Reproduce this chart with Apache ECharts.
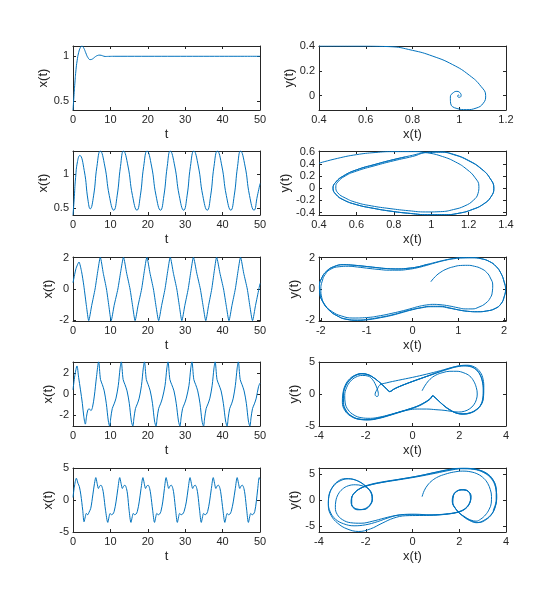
<!DOCTYPE html>
<html><head><meta charset="utf-8">
<script src="https://cdn.jsdelivr.net/npm/echarts@6/dist/echarts.min.js"></script>
<style>html,body{margin:0;padding:0;background:#fff}#c{width:560px;height:611px}</style>
</head><body><div id="c"></div>
<script>
// ---------- tick labels ----------
const tTicks = [0, 10, 20, 30, 40, 50];
const p1YTicks = [0.5, 1];
const p2XTicks = [0.4, 0.6, 0.8, 1, 1.2];
const p2YTicks = [0, 0.2, 0.4];
const p3YTicks = [0.5, 1];
const p4XTicks = [0.4, 0.6, 0.8, 1, 1.2, 1.4];
const p4YTicks = [-0.4, -0.2, 0, 0.2, 0.4, 0.6];
const p5YTicks = [-2, 0, 2];
const p6XTicks = [-2, -1, 0, 1, 2];
const p6YTicks = [-2, 0, 2];
const p7YTicks = [-2, 0, 2];
const p8XTicks = [-4, -2, 0, 2, 4];
const p8YTicks = [-5, 0, 5];
const p9YTicks = [-5, 0, 5];
const p10XTicks = [-4, -2, 0, 2, 4];
const p10YTicks = [-5, 0, 5];

// ---------- panel 1: x(t) ----------
const p1T = [0,0.25,0.5,0.8,1.1,1.5,2.0,2.4,2.9,3.4,4.0,4.6,5.2,5.8,6.5,7.2,7.9,8.6,9.5,11,50];
const p1X = [0.4,0.55,0.7,0.85,0.95,1.04,1.10,1.115,1.09,1.04,0.985,0.963,0.97,0.99,1.008,1.013,1.006,0.998,0.999,1.0,1.0];

// ---------- panel 2: phase ----------
const p2X = [0.40,0.55,0.70,0.80,0.887,0.972,1.043,1.093,1.113,1.103,1.072,1.03,0.99,0.963,0.962,0.975,0.99,1.005,1.008,1.0,0.993,0.996,1.0];
const p2Y = [0.400,0.400,0.395,0.365,0.318,0.250,0.165,0.075,0.0,-0.06,-0.10,-0.112,-0.103,-0.06,-0.01,0.025,0.035,0.02,0.0,-0.013,-0.004,0.006,0.0];

// ---------- panel 3: x(t) ----------
const p3T = [0,0.3,0.7,1.2,1.8, 3.0,4.0,4.6, 5.5,6.4,7.3, 8.5,9.7,10.9, 11.8,12.7,13.5, 14.7,15.9,17.1, 18.0,18.9,19.8, 21.0,22.2,23.4, 24.3,25.2,26.0, 27.2,28.4,29.6, 30.5,31.4,32.3, 33.5,34.7,35.9, 36.8,37.7,38.6, 39.8,41.0,42.2, 43.1,44.0,44.8, 46.0,47.2,48.4, 49.3,50];
const p3X = [0.4,0.62,0.95,1.18,1.27, 1.05,0.62,0.49, 0.68,1.11,1.335, 1.115,0.685,0.47, 0.68,1.11,1.335, 1.115,0.685,0.47, 0.68,1.11,1.335, 1.115,0.685,0.47, 0.68,1.11,1.335, 1.115,0.685,0.47, 0.68,1.11,1.335, 1.115,0.685,0.47, 0.68,1.11,1.335, 1.115,0.685,0.47, 0.68,1.11,1.335, 1.115,0.685,0.47, 0.68,0.86];

// ---------- panel 4: phase ----------
const p4X = [0.40,0.50,0.60,0.70,0.80,0.90,0.98,1.06,1.13,1.19,1.235,1.255,1.25,1.225,1.18,1.12,1.05,0.97,0.88,0.78,0.68,0.60,0.54,0.50,0.49,0.50,0.54,0.60,0.70,0.80,0.90,
  0.98,1.05,1.12,1.20,1.27,1.315,1.335,1.32,1.28,1.22,1.15,1.07,0.98,0.89,0.79,0.69,0.60,0.53,0.49,0.475,0.49,0.53,0.60,0.70,0.80,0.90,
  0.98,1.05,1.12,1.20,1.27,1.315,1.335,1.32,1.28,1.22,1.15,1.07,0.98,0.89,0.79,0.69,0.60,0.53,0.49,0.475,0.49,0.53,0.60,0.70,0.80,0.86];
const p4Y = [0.41,0.49,0.55,0.585,0.60,0.60,0.58,0.52,0.43,0.31,0.17,0.03,-0.09,-0.20,-0.29,-0.35,-0.385,-0.39,-0.37,-0.335,-0.29,-0.235,-0.16,-0.075,0.02,0.10,0.20,0.28,0.37,0.45,0.52,
  0.585,0.59,0.55,0.45,0.31,0.16,0.0,-0.14,-0.26,-0.35,-0.41,-0.435,-0.435,-0.415,-0.38,-0.33,-0.27,-0.19,-0.10,0.0,0.10,0.20,0.30,0.39,0.47,0.54,
  0.59,0.595,0.555,0.455,0.315,0.16,0.0,-0.14,-0.26,-0.35,-0.41,-0.435,-0.435,-0.415,-0.38,-0.33,-0.27,-0.19,-0.10,0.0,0.10,0.20,0.30,0.39,0.47,0.51];

// ---------- panel 5: x(t) ----------
const p5T = [0,0.8,1.6,2.3,2.9,3.6,4.2, 5.0,5.9,6.6,7.3, 8.1,8.95,9.6,10.2, 11.0,12.0,12.75,13.5, 14.35,15.25,15.95,16.6, 17.4,18.35,19.05,19.75, 20.6,21.5,22.2,22.9, 23.7,24.6,25.3,26.0, 26.85,27.75,28.45,29.1, 29.9,30.8,31.5,32.2, 33.1,34.05,34.8,35.5, 36.25,37.1,37.75,38.4, 39.3,40.25,41.0,41.7, 42.5,43.4,44.1,44.8, 45.65,46.6,47.3,48.0, 48.8,49.7,50];
const p5X = [0.4,1.3,1.72,1.1,0.2,-1.1,-2.02, -1.05,0,1.1,2.02, 1.0,0,-1.1,-2.02, -1.05,0,1.1,2.02, 1.0,0,-1.1,-2.02, -1.05,0,1.1,2.02, 1.0,0,-1.1,-2.02, -1.05,0,1.1,2.02, 1.0,0,-1.1,-2.02, -1.05,0,1.1,2.02, 1.0,0,-1.1,-2.02, -1.05,0,1.1,2.02, 1.0,0,-1.1,-2.02, -1.05,0,1.1,2.02, 1.0,0,-1.1,-2.02, -1.05,0,0.35];

// ---------- panel 6: phase ----------
const p6X = [0.40,0.50,0.62,0.75,0.90,1.05,1.20,1.35,1.50,1.62,1.70,1.75,1.74,1.70,1.60,1.45,1.30,1.15,1.00,0.80,0.60,0.44,0.30,0.15,0.0,-0.2,-0.45,-0.7,-1.0,-1.3,-1.55,-1.75,-1.9,-1.98,-2.0,
  -1.97,-1.90,-1.78,-1.60,-1.40,-1.20,-1.00,-0.75,-0.50,-0.30,-0.10,0.10,0.30,0.50,0.70,0.90,1.10,1.30,1.50,1.68,1.82,1.93,2.00,2.03,2.00,1.93,1.80,1.62,1.42,1.20,1.00,0.80,0.60,0.40,0.20,0.0,-0.20,-0.45,-0.70,-0.95,-1.20,-1.45,-1.65,-1.82,-1.95,-2.02,-2.03,
  -1.98,-1.88,-1.72,-1.50,-1.30,-1.05,-0.80,-0.55,-0.30,-0.10,0.10,0.30,0.50,0.70,0.90,1.10,1.30,1.50,1.68,1.82,1.93,2.00,2.03,2.00,1.93,1.80,1.62,1.42,1.20,1.00,0.80,0.60,0.40,0.20,0.0,-0.20,-0.45,-0.70,-0.95,-1.20,-1.45,-1.65,-1.82,-1.95,-2.02,-2.03,
  -1.98,-1.88,-1.72,-1.50,-1.30,-1.05,-0.80,-0.55,-0.30,-0.10,0.10,0.30,0.35];
const p6Y = [0.46,0.80,1.08,1.28,1.42,1.50,1.51,1.45,1.30,1.05,0.70,0.25,-0.20,-0.55,-0.90,-1.15,-1.27,-1.27,-1.20,-1.08,-1.00,-0.98,-1.02,-1.10,-1.22,-1.38,-1.55,-1.70,-1.82,-1.85,-1.72,-1.45,-1.05,-0.55,0.0,
  0.50,0.95,1.27,1.42,1.45,1.40,1.33,1.25,1.20,1.20,1.25,1.35,1.50,1.67,1.82,1.93,1.98,1.99,1.93,1.75,1.45,1.00,0.45,0.0,-0.50,-0.95,-1.25,-1.40,-1.45,-1.42,-1.33,-1.20,-1.10,-1.10,-1.18,-1.30,-1.45,-1.65,-1.80,-1.92,-1.98,-1.92,-1.70,-1.35,-0.85,-0.30,0.20,
  0.70,1.12,1.42,1.55,1.52,1.45,1.37,1.30,1.28,1.32,1.40,1.55,1.70,1.84,1.95,2.0,2.0,1.93,1.75,1.45,1.00,0.45,0.0,-0.50,-0.95,-1.25,-1.40,-1.45,-1.42,-1.33,-1.22,-1.13,-1.13,-1.20,-1.32,-1.48,-1.68,-1.83,-1.95,-2.0,-1.93,-1.70,-1.35,-0.85,-0.30,0.20,
  0.70,1.12,1.42,1.55,1.52,1.45,1.37,1.30,1.28,1.32,1.40,1.55,1.58];

// ---------- panel 7: x(t) ----------
const p7T = [0,0.5,1.07,1.5,2.0,2.5,2.9,3.3, 3.6,4.0,4.4,4.8,5.2,5.7,6.3,6.85,
  7.35,7.85,8.35,8.9,9.45,9.8, 10.1,10.5,11.0,11.5,12.1,12.6,12.9,
  13.4,13.9,14.45,15.05,15.6,16.0, 16.3,16.7,17.2,17.7,18.3,18.8,19.1,
  19.6,20.1,20.65,21.25,21.8,22.2, 22.5,22.9,23.4,23.9,24.6,25.1,25.4,
  25.9,26.4,27.0,27.6,28.2,28.6, 28.9,29.3,29.8,30.3,31.0,31.5,31.8,
  32.3,32.8,33.35,33.95,34.5,34.9, 35.2,35.6,36.1,36.6,37.2,37.7,38.0,
  38.5,39.0,39.6,40.2,40.8,41.2, 41.5,41.9,42.4,42.85,43.4,43.9,44.2,
  44.7,45.2,45.75,46.35,46.9,47.3, 47.6,48.0,48.5,49.0,49.6,50];
const p7X = [0.4,1.8,2.7,1.6,0.4,-0.9,-2.2,-2.9, -2.2,-1.5,-1.45,-1.6,-1.3,-0.2,1.7,3.1,
  1.4,0.9,0.3,-0.9,-2.6,-3.1, -2.3,-1.4,-0.95,-0.4,0.8,2.5,3.1,
  1.4,0.9,0.3,-0.9,-2.6,-3.1, -2.3,-1.4,-0.95,-0.4,0.8,2.5,3.1,
  1.4,0.9,0.3,-0.9,-2.6,-3.1, -2.3,-1.4,-0.95,-0.4,0.8,2.5,3.1,
  1.4,0.9,0.3,-0.9,-2.6,-3.1, -2.3,-1.4,-0.95,-0.4,0.8,2.5,3.1,
  1.4,0.9,0.3,-0.9,-2.6,-3.1, -2.3,-1.4,-0.95,-0.4,0.8,2.5,3.1,
  1.4,0.9,0.3,-0.9,-2.6,-3.1, -2.3,-1.4,-0.95,-0.4,0.8,2.5,3.1,
  1.4,0.9,0.3,-0.9,-2.6,-3.1, -2.3,-1.4,-0.95,-0.4,0.7,1.05];

// ---------- panel 8: phase ----------
const p8X = [0.41,0.55,0.75,1.0,1.3,1.6,1.9,2.2,2.45,2.62,2.73,2.77,2.73,2.62,2.45,2.22,1.95,1.65,1.35,1.0,0.6,0.2,-0.2,-0.6,-1.0,-1.4,-1.8,-2.2,-2.5,-2.75,-2.88,-2.9,-2.82,-2.65,-2.42,-2.15,-1.9,-1.72,-1.6,-1.52,-1.47,-1.46,-1.5,-1.56,-1.6,-1.57,-1.5,-1.4,-1.1,-0.6,0.0,0.6,1.2,1.7,2.1,2.45,2.72,2.9,3.0,3.03,
  3.0,2.9,2.7,2.45,2.15,1.85,1.55,1.3,1.08,0.9,0.87,0.75,0.5,0.2,-0.2,-0.6,-1.0,-1.45,-1.9,-2.3,-2.62,-2.85,-2.95,-2.95,-2.85,-2.65,-2.4,-2.15,-1.9,-1.65,-1.4,-1.2,-1.02,-0.98,-0.8,-0.5,0.0,0.5,1.0,1.5,1.9,2.3,2.62,2.85,2.98,3.03,
  3.02,2.93,2.75,2.5,2.2,1.9,1.6,1.33,1.1,0.92,0.88,0.76,0.52,0.22,-0.18,-0.58,-0.98,-1.42,-1.88,-2.3,-2.65,-2.9,-3.0,-2.98,-2.88,-2.68,-2.42,-2.18,-1.92,-1.66,-1.42,-1.2,-1.03,-0.97,-0.78,-0.48,0.02,0.52,1.02,1.52,1.92,2.32,2.66,2.9,3.02,3.05,
  3.03,2.92,2.72,2.47,2.17,1.87,1.57,1.31,1.09,0.91,0.87,0.75,0.5,0.2,-0.2,-0.6,-1.0,-1.45,-1.9,-2.3,-2.63,-2.87,-2.97,-2.96,-2.86,-2.66,-2.41,-2.16,-1.91,-1.65,-1.41,-1.2,-1.02,-0.98,-0.79,-0.49,0.01,0.51,1.0];
const p8Y = [0.5,1.4,2.3,2.95,3.35,3.55,3.55,3.3,2.8,2.0,1.0,0.0,-0.9,-1.7,-2.3,-2.7,-2.82,-2.7,-2.55,-2.45,-2.35,-2.35,-2.5,-2.85,-3.25,-3.6,-3.8,-3.7,-3.3,-2.5,-1.4,-0.2,1.0,2.0,2.65,2.9,2.8,2.3,1.6,0.9,0.3,-0.1,-0.38,-0.35,-0.05,0.35,0.8,1.4,1.75,2.15,2.6,3.1,3.65,4.15,4.4,4.3,3.8,2.9,1.7,0.4,
  -0.8,-1.8,-2.5,-2.95,-3.1,-2.95,-2.4,-1.7,-0.95,-0.35,-0.25,-0.75,-1.35,-1.9,-2.4,-2.85,-3.3,-3.75,-4.0,-3.9,-3.4,-2.5,-1.3,0.0,1.3,2.3,2.95,3.15,3.0,2.5,1.8,1.1,0.45,0.37,0.75,1.25,1.95,2.6,3.25,3.85,4.25,4.42,4.1,3.3,2.2,0.9,
  -0.6,-1.7,-2.45,-2.95,-3.15,-3.0,-2.45,-1.75,-1.0,-0.4,-0.3,-0.8,-1.4,-1.95,-2.45,-2.9,-3.35,-3.8,-4.05,-3.95,-3.45,-2.55,-1.3,0.0,1.35,2.4,3.0,3.2,3.05,2.55,1.85,1.15,0.5,0.4,0.8,1.3,2.0,2.65,3.3,3.95,4.35,4.5,4.2,3.4,2.3,1.0,
  -0.7,-1.75,-2.48,-2.95,-3.12,-2.97,-2.42,-1.72,-0.97,-0.37,-0.27,-0.77,-1.37,-1.92,-2.42,-2.87,-3.32,-3.77,-4.02,-3.92,-3.42,-2.52,-1.3,0.0,1.32,2.35,2.97,3.17,3.02,2.52,1.82,1.12,0.47,0.38,0.77,1.27,1.97,2.62,3.27];

// ---------- panel 9: x(t) ----------
const p9T = [0,0.35,0.9,1.33,1.7,2.1,2.6,2.95, 3.3,3.55,3.95,4.3,4.75,5.3,5.75,6.1,
  6.45,6.8,7.15,7.5,7.9,8.2,8.7,9.3, 9.65,9.9,10.3,10.65,11.0,11.5,12.0,12.5,
  12.85,13.2,13.55,13.9,14.3,14.6,15.0,15.5, 15.85,16.1,16.5,16.85,17.2,17.7,18.2,18.7,
  19.05,19.4,19.75,20.1,20.5,20.8,21.3,21.8, 22.15,22.4,22.8,23.15,23.5,24.0,24.45,24.9,
  25.25,25.6,25.95,26.3,26.7,27.0,27.45,27.9, 28.25,28.5,28.9,29.3,29.7,30.3,30.8,31.3,
  31.65,32.0,32.35,32.7,33.1,33.4,33.85,34.3, 34.65,34.9,35.3,35.65,36.0,36.5,37.0,37.5,
  37.85,38.2,38.55,38.9,39.3,39.6,40.1,40.6, 40.95,41.2,41.6,41.95,42.3,42.85,43.4,43.9,
  44.25,44.6,44.95,45.3,45.7,46.0,46.45,46.9, 47.25,47.5,47.9,48.25,48.6,49.0,49.4,49.8,50];
const p9X = [0.4,2.0,3.4,2.6,2.1,0.8,-1.6,-3.4, -2.6,-2.1,-2.3,-1.9,-1.3,0.8,2.6,3.5,
  2.6,1.8,2.2,2.3,1.8,0.8,-1.6,-3.5, -2.6,-2.1,-2.3,-2.2,-1.8,-0.3,1.8,3.5,
  2.6,1.8,2.2,2.3,1.8,0.8,-1.6,-3.5, -2.6,-2.1,-2.3,-2.2,-1.8,-0.3,1.8,3.5,
  2.6,1.8,2.2,2.3,1.8,0.8,-1.6,-3.5, -2.6,-2.1,-2.3,-2.2,-1.8,-0.3,1.8,3.5,
  2.6,1.8,2.2,2.3,1.8,0.8,-1.6,-3.5, -2.6,-2.1,-2.3,-2.2,-1.8,-0.3,1.8,3.5,
  2.6,1.8,2.2,2.3,1.8,0.8,-1.6,-3.5, -2.6,-2.1,-2.3,-2.2,-1.8,-0.3,1.8,3.5,
  2.6,1.8,2.2,2.3,1.8,0.8,-1.6,-3.5, -2.6,-2.1,-2.3,-2.2,-1.8,-0.3,1.8,3.5,
  2.6,1.8,2.2,2.3,1.8,0.8,-1.6,-3.5, -2.6,-2.1,-2.3,-2.2,-1.8,-0.3,1.8,3.5,3.2];

// ---------- panel 10: phase ----------
const p10X = [0.41,0.5,0.65,0.85,1.1,1.4,1.75,2.15,2.5,2.8,3.05,3.22,3.33,3.38,3.37,3.28,3.12,2.92,2.72,2.5,2.25,2.0,1.82,1.72,1.75,1.88,2.08,2.3,2.45,2.48,2.4,2.22,1.95,1.55,1.0,0.4,-0.2,-0.7,-1.2,-1.7,-2.2,-2.65,-3.0,-3.22,-3.3,-3.28,-3.18,-3.0,-2.75,-2.45,-2.15,-1.9,-1.75,-1.72,-1.82,-2.0,-2.25,-2.5,-2.62,-2.6,-2.45,-2.2,-1.85,-1.3,-0.6,0.2,1.0,1.6,2.1,2.6,3.05,3.38,3.55,3.6,3.55,3.4,3.15,2.85,2.55,2.2,1.88,1.72,1.75,1.92,2.15,2.38,2.5,2.45,2.28,2.0,1.55,0.9,0.3,-0.3,-0.8,-1.3,-1.8,-2.3,-2.8,-3.2,-3.48,-3.6,-3.58,-3.45,-3.2,-2.85,-2.45,-2.1,-1.8,-1.72,-1.82,-2.05,-2.35,-2.58,-2.62,-2.5,-2.25,-1.9,-1.3,-0.6,0.2,1.0,1.6,2.1,2.65,3.1,3.42,3.57,3.6,3.52,3.35,3.05,2.75,2.45,2.12,1.85,1.7,1.76,1.95,2.2,2.42,2.5,2.42,2.22,1.9,1.4,0.8,0.1,-0.5,-1.0,-1.5,-2.0,-2.5,-2.95,-3.3,-3.52,-3.6,-3.55,-3.38,-3.1,-2.75,-2.35,-2.0,-1.78,-1.72,-1.85,-2.1,-2.4,-2.6,-2.6,-2.45,-2.15,-1.8,-1.2,-0.5,0.3,1.1,1.7,2.2,2.7,3.15,3.45,3.58,3.58,3.45];
const p10Y = [0.65,1.8,2.9,3.8,4.5,5.0,5.4,5.6,5.45,5.0,4.2,3.2,2.0,0.7,-0.6,-1.8,-2.9,-3.7,-4.1,-3.9,-3.3,-2.5,-1.5,-0.4,0.8,1.6,1.95,1.85,1.2,0.2,-0.9,-1.75,-2.3,-2.65,-2.85,-2.9,-2.85,-3.0,-3.5,-4.1,-4.5,-4.4,-3.8,-2.8,-1.5,-0.2,1.1,2.1,2.75,2.95,2.75,2.2,1.3,0.2,-0.9,-1.6,-1.85,-1.5,-0.6,0.5,1.5,2.3,2.85,3.4,3.9,4.5,5.2,5.75,6.05,5.95,5.3,4.1,2.5,0.6,-1.2,-2.7,-3.8,-4.35,-4.1,-3.2,-1.9,-0.5,0.9,1.75,2.0,1.7,0.8,-0.6,-1.65,-2.3,-2.7,-2.95,-3.0,-3.05,-3.5,-4.5,-5.6,-6.1,-5.6,-4.5,-3.0,-1.2,0.7,2.3,3.6,4.15,3.9,3.0,1.7,0.3,-1.0,-1.8,-1.9,-1.2,0.0,1.3,2.25,2.9,3.5,4.0,4.6,5.4,5.95,6.15,6.0,5.3,4.0,2.3,0.4,-1.5,-2.9,-3.95,-4.4,-4.0,-3.0,-1.7,-0.3,1.1,1.85,2.0,1.55,0.5,-0.8,-1.8,-2.4,-2.75,-2.9,-2.75,-2.85,-3.4,-4.2,-4.8,-5.0,-4.6,-3.7,-2.3,-0.6,1.2,2.7,3.7,4.1,3.7,2.7,1.4,0.0,-1.2,-1.85,-1.75,-0.9,0.3,1.5,2.4,2.95,3.5,4.05,4.7,5.45,5.95,6.15,5.95,5.25,3.9,2.0,0.0,-2.0];

// ---------- layout / styling ----------
const FONT = '"Liberation Sans", Arial, Helvetica, sans-serif';
const TXT = '#262626';
const LINE = '#0072BD';
const rowsTop = [46, 151, 257, 362, 468];
const colLeft = [73, 319];
const W = 187, H = 64;

const spec = [
  {r:0,c:0, xs:p1T, ys:p1X, xr:[0,50], xt:tTicks, yr:[0.4,1.115], yt:p1YTicks, xn:'t', yn:'x(t)', sm:0.5, yg:15.5},
  {r:0,c:1, xs:p2X, ys:p2Y, xr:[0.4,1.2], xt:p2XTicks, yr:[-0.115,0.4], yt:p2YTicks, xn:'x(t)', yn:'y(t)', sm:0.5, yg:14.5},
  {r:1,c:0, xs:p3T, ys:p3X, xr:[0,50], xt:tTicks, yr:[0.4,1.335], yt:p3YTicks, xn:'t', yn:'x(t)', sm:0.5, yg:16.5},
  {r:1,c:1, xs:p4X, ys:p4Y, xr:[0.4,1.4], xt:p4XTicks, yr:[-0.44,0.61], yt:p4YTicks, xn:'x(t)', yn:'y(t)', sm:0.5, yg:19.5},
  {r:2,c:0, xs:p5T, ys:p5X, xr:[0,50], xt:tTicks, yr:[-2.04,2.04], yt:p5YTicks, xn:'t', yn:'x(t)', sm:0.2, yg:11},
  {r:2,c:1, xs:p6X, ys:p6Y, xr:[-2.04,2.04], xt:p6XTicks, yr:[-2.04,2.04], yt:p6YTicks, xn:'x(t)', yn:'y(t)', sm:0.5, yg:13},
  {r:3,c:0, xs:p7T, ys:p7X, xr:[0,50], xt:tTicks, yr:[-3.08,3.08], yt:p7YTicks, xn:'t', yn:'x(t)', sm:0.3, yg:11},
  {r:3,c:1, xs:p8X, ys:p8Y, xr:[-4,4], xt:p8XTicks, yr:[-5,5], yt:p8YTicks, xn:'x(t)', yn:'y(t)', sm:0.4, yg:13},
  {r:4,c:0, xs:p9T, ys:p9X, xr:[0,50], xt:tTicks, yr:[-5,5], yt:p9YTicks, xn:'t', yn:'x(t)', sm:0.3, yg:12},
  {r:4,c:1, xs:p10X, ys:p10Y, xr:[-4,4], xt:p10XTicks, yr:[-6.2,6.2], yt:p10YTicks, xn:'x(t)', yn:'y(t)', sm:0.4, yg:13}
];

const grid = [], xAxis = [], yAxis = [], series = [];
const labelStyle = {color: TXT, fontSize: 11, fontFamily: FONT};
const nameStyle = {color: TXT, fontSize: 13, fontFamily: FONT};
function baseAxis(min, max, ticks, gi) {
  return {
    type: 'value', min: min, max: max, gridIndex: gi,
    splitLine: {show: false},
    axisLine: {show: true, onZero: false, lineStyle: {color: TXT, width: 1}},
    axisTick: {show: true, inside: true, length: 3, customValues: ticks, lineStyle: {color: TXT, width: 1}}
  };
}
spec.forEach(function (p, i) {
  grid.push({left: colLeft[p.c], top: rowsTop[p.r], width: W, height: H, containLabel: false});
  xAxis.push(Object.assign(baseAxis(p.xr[0], p.xr[1], p.xt, i), {
    position: 'bottom', name: p.xn, nameLocation: 'middle', nameGap: 17.5, nameTextStyle: nameStyle,
    axisLabel: Object.assign({show: true, margin: 4, customValues: p.xt, formatter: function (v) { return String(v); }}, labelStyle)
  }));
  xAxis.push(Object.assign(baseAxis(p.xr[0], p.xr[1], p.xt, i), {position: 'top', axisLabel: {show: false}}));
  yAxis.push(Object.assign(baseAxis(p.yr[0], p.yr[1], p.yt, i), {
    position: 'left', name: p.yn, nameLocation: 'middle', nameRotate: 90, nameGap: p.yg, nameTextStyle: nameStyle,
    axisLabel: Object.assign({show: true, margin: 4, customValues: p.yt, formatter: function (v) { return String(v); }}, labelStyle)
  }));
  yAxis.push(Object.assign(baseAxis(p.yr[0], p.yr[1], p.yt, i), {position: 'right', axisLabel: {show: false}}));
  series.push({
    type: 'line', xAxisIndex: 2 * i, yAxisIndex: 2 * i,
    data: p.xs.map(function (v, k) { return [v, p.ys[k]]; }),
    showSymbol: false, symbol: 'none', smooth: p.sm, clip: true, silent: true,
    lineStyle: {color: LINE, width: 1}
  });
});

const chart = echarts.init(document.getElementById('c'), null, {renderer: 'canvas', width: 560, height: 611});
chart.setOption({
  animation: false,
  backgroundColor: '#ffffff',
  grid: grid, xAxis: xAxis, yAxis: yAxis, series: series
});
</script>
</body></html>
